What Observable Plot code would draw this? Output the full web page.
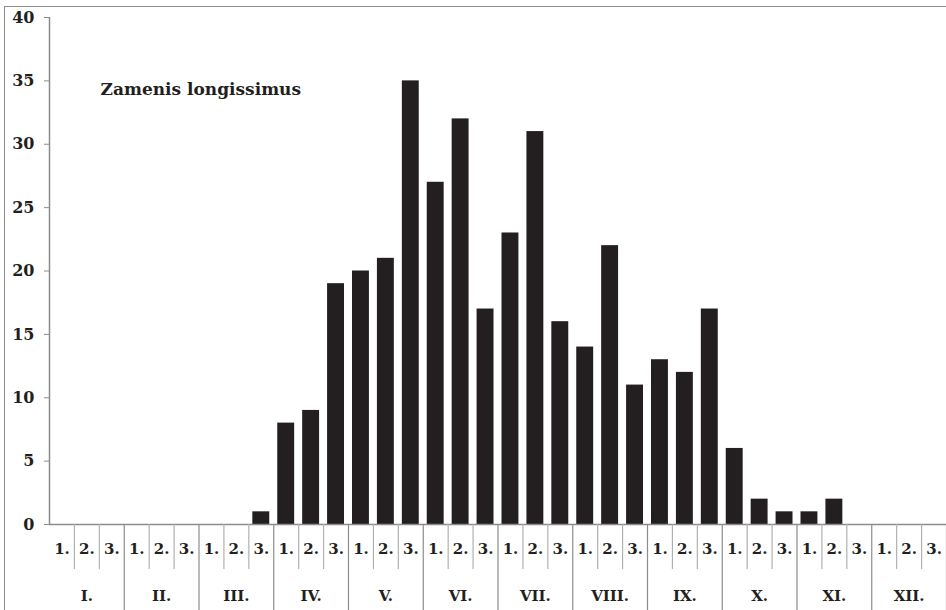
<!DOCTYPE html>
<html>
<head>
<meta charset="utf-8">
<script src="https://cdn.jsdelivr.net/npm/d3@7"></script>
<script src="https://cdn.jsdelivr.net/npm/@observablehq/plot@0.6"></script>
<style>
  body { margin: 0; background: #fff; }
  #wrap { position: relative; width: 946px; height: 610px; overflow: hidden; }
  #frame { position: absolute; left: 4px; top: 6px; width: 2000px; height: 2000px;
           border-top: 1.5px solid #8c8c8c; border-left: 1.5px solid #8c8c8c; pointer-events: none; }
  #chart { position: absolute; left: 0; top: 0; }
</style>
</head>
<body>
<div id="wrap"><div id="chart"></div><div id="frame"></div></div>
<script>
const title = "Zamenis longissimus";
const months = ["I.", "II.", "III.", "IV.", "V.", "VI.", "VII.", "VIII.", "IX.", "X.", "XI.", "XII."];
const decades = ["1.", "2.", "3."];
const counts = [
  0, 0, 0,    // I
  0, 0, 0,    // II
  0, 0, 1,    // III
  8, 9, 19,   // IV
  20, 21, 35, // V
  27, 32, 17, // VI
  23, 31, 16, // VII
  14, 22, 11, // VIII
  13, 12, 17, // IX
  6, 2, 1,    // X
  1, 2, 0,    // XI
  0, 0, 0     // XII
];
const yTicks = [0, 5, 10, 15, 20, 25, 30, 35, 40];

const bars = counts.map((v, i) => ({
  i, value: v, month: months[Math.floor(i / 3)], decade: decades[i % 3]
}));
const monthData = months.map((m, k) => ({ k, month: m }));
const boundaries = d3.range(counts.length + 1).map(i => ({ i, isMonth: i % 3 === 0 }));

const font = "'DejaVu Serif', serif";
const grey = "#8c8c8c";

const plot = Plot.plot({
  width: 946,
  height: 610,
  marginLeft: 49,
  marginRight: 0,
  marginTop: 17,
  marginBottom: 86,
  style: { fontFamily: font, fontWeight: "bold", fontSize: "16px", color: "#231f20", background: "#fff" },
  x: { type: "linear", domain: [0, counts.length], axis: null },
  y: { domain: [0, 40], ticks: yTicks, axis: null },
  marks: [
    Plot.rectY(bars, { x1: d => d.i, x2: d => d.i + 1, y: "value", fill: "#231f20", insetLeft: 4, insetRight: 4 }),
    Plot.ruleY([0], { stroke: grey, strokeWidth: 1.5 }),
    Plot.ruleX([0], { stroke: grey, strokeWidth: 1.5 }),
    Plot.axisY({ ticks: yTicks, tickSize: 5, tickPadding: 10, stroke: grey, fontSize: 16, fontWeight: "bold", fontFamily: font, fill: "#231f20", label: null }),
    Plot.ruleX(boundaries.filter(d => !d.isMonth), { x: "i", stroke: "#b0b0b0", strokeWidth: 1.2, insetTop: 507, insetBottom: -45 }),
    Plot.ruleX(boundaries.filter(d => d.isMonth && d.i > 0), { x: "i", stroke: grey, strokeWidth: 1.2, insetTop: 507, insetBottom: -86 }),
    Plot.text(bars, { x: d => d.i + 0.5, text: "decade", frameAnchor: "bottom", dy: 29, fontSize: 15, fontWeight: "bold", fontFamily: font, fill: "#231f20" }),
    Plot.text(monthData, { x: d => d.k * 3 + 1.5, text: "month", frameAnchor: "bottom", dy: 76, fontSize: 15, fontWeight: "bold", fontFamily: font, fill: "#231f20" }),
    Plot.text([title], { frameAnchor: "top-left", textAnchor: "start", dx: 51, dy: 65, fontSize: 17, fontWeight: "bold", fontFamily: font, fill: "#231f20" })
  ]
});
document.getElementById("chart").appendChild(plot);
</script>
</body>
</html>
